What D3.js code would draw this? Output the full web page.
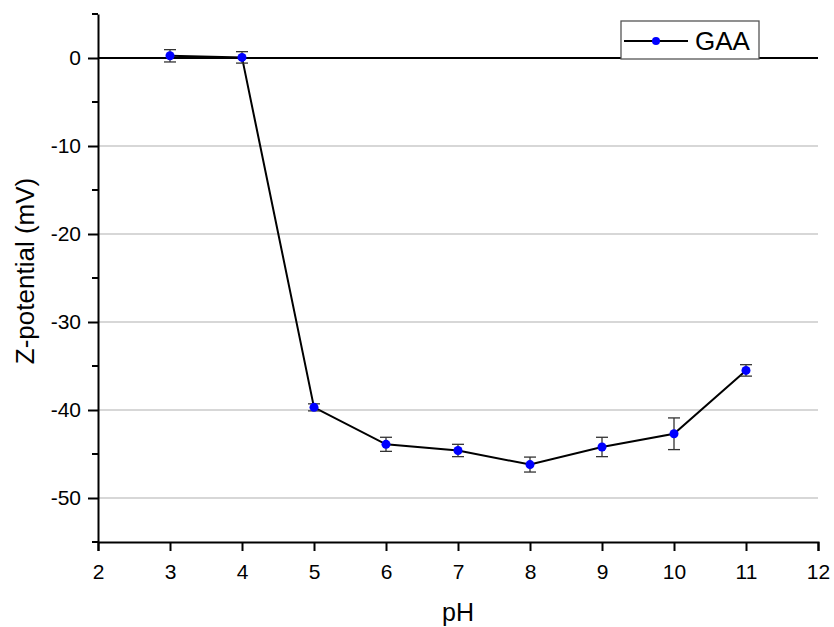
<!DOCTYPE html>
<html>
<head>
    <meta charset="utf-8">
    <script src="https://d3js.org/d3.v7.min.js"></script>
    <style>
        body { margin: 0; background: #fff; }
        text { font-family: "Liberation Sans", Arial, sans-serif; }
    </style>
</head>
<body>
<div id="chart"></div>
<script>
    // data
    var ph = [3, 4, 5, 6, 7, 8, 9, 10, 11];
    var zeta = [0.25, 0.07, -39.7, -43.9, -44.6, -46.2, -44.2, -42.7, -35.5];
    var zetaErr = [0.7, 0.65, 0.4, 0.8, 0.7, 0.85, 1.1, 1.8, 0.65];
    var xTicks = [2, 3, 4, 5, 6, 7, 8, 9, 10, 11, 12];
    var yTicks = [0, -10, -20, -30, -40, -50];
    var yMinor = [5, -5, -15, -25, -35, -45, -55];
    var gridLines = [-10, -20, -30, -40, -50];

    var width = 834, height = 627;
    var margin = { top: 14, right: 16, bottom: 85, left: 98 };

    var svg = d3.select("#chart").append("svg")
        .attr("width", width)
        .attr("height", height);

    var x = d3.scaleLinear().domain([2, 12]).range([margin.left, width - margin.right]);
    var y = d3.scaleLinear().domain([-55, 5]).range([height - margin.bottom, margin.top]);

    // gridlines
    svg.append("g").selectAll("line").data(gridLines).enter().append("line")
        .attr("x1", x(2)).attr("x2", x(12))
        .attr("y1", d => y(d)).attr("y2", d => y(d))
        .attr("stroke", "#b0b0b0").attr("stroke-width", 1.2);

    // zero line
    svg.append("line")
        .attr("x1", x(2)).attr("x2", x(12))
        .attr("y1", y(0)).attr("y2", y(0))
        .attr("stroke", "#000").attr("stroke-width", 2);

    // x axis
    var xAxis = svg.append("g")
        .attr("transform", "translate(0," + y(-55) + ")")
        .call(d3.axisBottom(x).tickValues(xTicks).tickSize(9).tickPadding(13).tickFormat(d => String(d)));
    xAxis.select(".domain").attr("stroke-width", 2);
    xAxis.selectAll(".tick line").attr("stroke-width", 2);
    xAxis.selectAll("text").style("font-size", "21px").attr("fill", "#000");

    // y axis
    var yAxis = svg.append("g")
        .attr("transform", "translate(" + x(2) + ",0)")
        .call(d3.axisLeft(y).tickValues(yTicks).tickSize(10).tickPadding(7).tickSizeOuter(0).tickFormat(d => String(d)));
    yAxis.select(".domain").attr("stroke-width", 2);
    yAxis.selectAll(".tick line").attr("stroke-width", 2);
    yAxis.selectAll("text").style("font-size", "21px").attr("fill", "#000");

    svg.append("g").selectAll("line").data(yMinor).enter().append("line")
        .attr("x1", x(2) - 6).attr("x2", x(2))
        .attr("y1", d => y(d)).attr("y2", d => y(d))
        .attr("stroke", "#000").attr("stroke-width", 2);

    // axis titles
    svg.append("text")
        .attr("x", (x(2) + x(12)) / 2)
        .attr("y", 621)
        .attr("text-anchor", "middle")
        .style("font-size", "25px")
        .text("pH");

    svg.append("text")
        .attr("transform", "translate(34,271) rotate(-90)")
        .attr("text-anchor", "middle")
        .style("font-size", "26px")
        .text("Z-potential (mV)");

    var pts = ph.map((d, i) => ({ x: d, y: zeta[i], e: zetaErr[i] }));

    // line
    svg.append("path")
        .datum(pts)
        .attr("fill", "none")
        .attr("stroke", "#000")
        .attr("stroke-width", 2)
        .attr("d", d3.line().x(d => x(d.x)).y(d => y(d.y)));

    // error bars
    var eb = svg.append("g").selectAll("g").data(pts).enter().append("g")
        .attr("stroke", "#333").attr("stroke-width", 1.3);
    eb.append("line")
        .attr("x1", d => x(d.x)).attr("x2", d => x(d.x))
        .attr("y1", d => y(d.y + d.e)).attr("y2", d => y(d.y - d.e));
    eb.append("line")
        .attr("x1", d => x(d.x) - 6).attr("x2", d => x(d.x) + 6)
        .attr("y1", d => y(d.y + d.e)).attr("y2", d => y(d.y + d.e));
    eb.append("line")
        .attr("x1", d => x(d.x) - 6).attr("x2", d => x(d.x) + 6)
        .attr("y1", d => y(d.y - d.e)).attr("y2", d => y(d.y - d.e));

    // points
    svg.append("g").selectAll("circle").data(pts).enter().append("circle")
        .attr("cx", d => x(d.x))
        .attr("cy", d => y(d.y))
        .attr("r", 4.5)
        .attr("fill", "#0000ff");

    // legend
    var lg = svg.append("g").attr("transform", "translate(621,21)");
    lg.append("rect")
        .attr("width", 138).attr("height", 38)
        .attr("fill", "#fff").attr("stroke", "#555").attr("stroke-width", 1.3);
    lg.append("line")
        .attr("x1", 3).attr("x2", 67).attr("y1", 20).attr("y2", 20)
        .attr("stroke", "#000").attr("stroke-width", 2);
    lg.append("circle")
        .attr("cx", 35).attr("cy", 20).attr("r", 4)
        .attr("fill", "#0000ff");
    lg.append("text")
        .attr("x", 74).attr("y", 29)
        .style("font-size", "26px")
        .text("GAA");
</script>
</body>
</html>
